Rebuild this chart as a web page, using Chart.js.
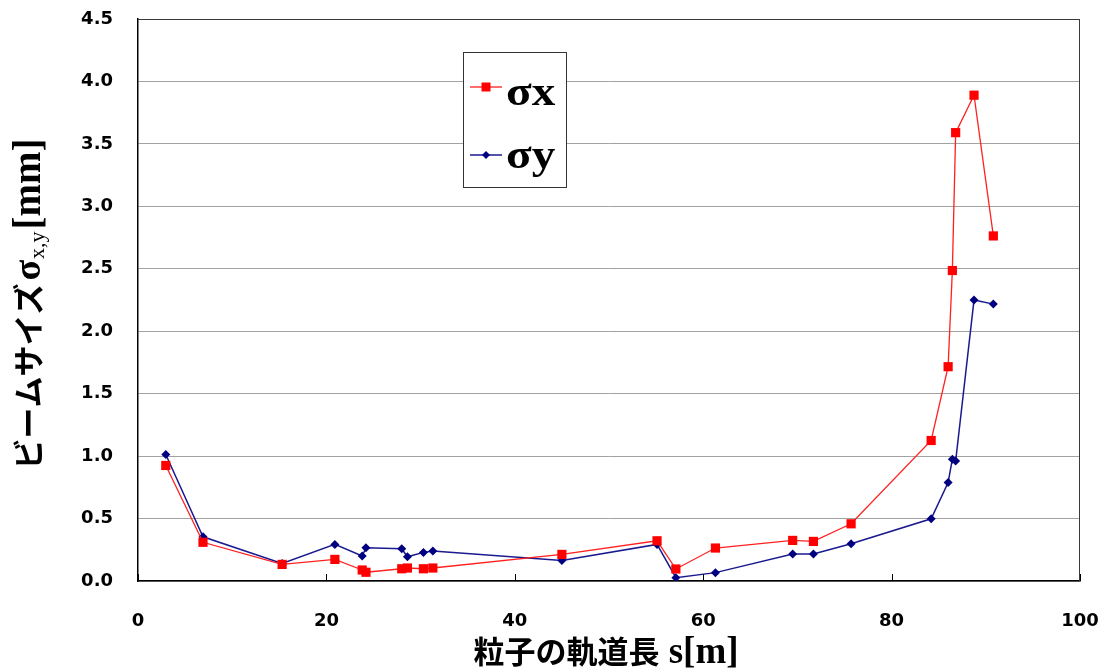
<!DOCTYPE html>
<html>
<head>
<meta charset="utf-8">
<script src="https://cdn.jsdelivr.net/npm/chart.js@4/dist/chart.umd.min.js"></script>
<style>
  html, body { margin: 0; padding: 0; background: #ffffff; }
  canvas { display: block; }
</style>
</head>
<body>
<canvas id="beam" width="1104" height="670"></canvas>
<script>
// Orbit position s [m] of each observation point
const orbitPositions = [2.95, 6.9, 15.3, 20.9, 23.8, 24.2, 28.0, 28.6, 30.3, 31.3, 45.0, 55.1, 57.1, 61.3, 69.5, 71.7, 75.7, 84.2, 86.0, 86.45, 86.8, 88.75, 90.8];
// Horizontal beam size sigma_x [mm]
const sigmaX = [0.925, 0.31, 0.133, 0.173, 0.088, 0.07, 0.098, 0.104, 0.098, 0.104, 0.213, 0.322, 0.096, 0.264, 0.325, 0.317, 0.458, 1.125, 1.716, 2.486, 3.59, 3.89, 2.763];
// Vertical beam size sigma_y [mm]
const sigmaY = [1.013, 0.354, 0.141, 0.293, 0.2, 0.266, 0.258, 0.194, 0.229, 0.24, 0.165, 0.293, 0.027, 0.067, 0.216, 0.216, 0.298, 0.498, 0.789, 0.975, 0.96, 2.25, 2.217];

const seriesNames = ['σx', 'σy'];
const xTickValues = [0, 20, 40, 60, 80, 100];
const yTickValues = [0, 0.5, 1.0, 1.5, 2.0, 2.5, 3.0, 3.5, 4.0, 4.5];

const CJK = '"Noto Sans CJK JP", sans-serif';
const SERIF = '"Liberation Serif", "Times New Roman", serif';
const TICKFONT = '"DejaVu Sans", sans-serif';

const toPoints = ys => orbitPositions.map((x, i) => ({ x, y: ys[i] }));

// Draws a run of mixed-font text pieces centred on (0,0) along the x direction
function drawRuns(ctx, runs) {
  let total = 0;
  runs.forEach(r => { ctx.font = r.font; r.w = ctx.measureText(r.text).width; total += r.w + (r.gap || 0); });
  let x = -total / 2;
  ctx.textAlign = 'left';
  ctx.textBaseline = 'alphabetic';
  runs.forEach(r => {
    x += (r.gap || 0);
    ctx.font = r.font;
    ctx.fillText(r.text, x, r.dy || 0);
    x += r.w;
  });
}

// Plot frame plus short inward tick marks on the s axis
const framePlugin = {
  id: 'frame',
  afterDatasetsDraw(chart) {
    const { ctx, chartArea: a, scales } = chart;
    ctx.save();
    ctx.strokeStyle = '#3a3a3a';
    ctx.lineWidth = 1;
    ctx.beginPath();
    ctx.moveTo(a.left, a.top + 0.5); ctx.lineTo(a.right, a.top + 0.5);
    ctx.moveTo(a.right - 0.5, a.top); ctx.lineTo(a.right - 0.5, a.bottom);
    ctx.stroke();
    ctx.strokeStyle = '#000';
    ctx.beginPath();
    xTickValues.forEach(v => {
      const px = Math.round(scales.x.getPixelForValue(v)) + 0.5;
      ctx.moveTo(px, a.bottom); ctx.lineTo(px, a.bottom - 7);
    });
    ctx.stroke();
    ctx.restore();
  }
};

// Boxed legend inside the plot area
const legendBoxPlugin = {
  id: 'legendBox',
  afterDatasetsDraw(chart) {
    const { ctx } = chart;
    const box = { l: 463.5, t: 52.5, w: 103, h: 135 };
    const rows = [{ y: 87, base: 105 }, { y: 155, base: 168 }];
    ctx.save();
    ctx.fillStyle = '#fff';
    ctx.fillRect(box.l, box.t, box.w, box.h);
    ctx.strokeStyle = '#333';
    ctx.lineWidth = 1;
    ctx.strokeRect(box.l, box.t, box.w, box.h);
    chart.data.datasets.forEach((ds, i) => {
      const r = rows[i];
      ctx.strokeStyle = ds.borderColor;
      ctx.lineWidth = ds.borderWidth;
      ctx.beginPath();
      ctx.moveTo(470, r.y); ctx.lineTo(502, r.y);
      ctx.stroke();
      ctx.fillStyle = ds.pointBackgroundColor;
      ctx.beginPath();
      if (ds.pointStyle === 'rect') {
        ctx.rect(486 - 4.5, r.y - 4.5, 9, 9);
      } else {
        ctx.moveTo(486, r.y - 4); ctx.lineTo(490, r.y); ctx.lineTo(486, r.y + 4); ctx.lineTo(482, r.y);
        ctx.closePath();
      }
      ctx.fill();
      ctx.fillStyle = '#000';
      ctx.font = 'bold 40px ' + SERIF;
      ctx.textAlign = 'left';
      ctx.textBaseline = 'alphabetic';
      ctx.save();
      ctx.translate(506, r.base);
      ctx.scale(1.18, 1);
      ctx.fillText(ds.label, 0, 0);
      ctx.restore();
    });
    ctx.restore();
  }
};

// Axis titles mixing Japanese gothic and serif Latin/Greek text
const axisTitlePlugin = {
  id: 'axisTitles',
  afterDraw(chart) {
    const { ctx, chartArea: a } = chart;
    ctx.save();
    ctx.fillStyle = '#000';
    ctx.translate((a.left + a.right) / 2 - 3, 663);
    drawRuns(ctx, [
      { text: '粒子の軌道長', font: 'bold 31px ' + CJK },
      { text: ' s[m]', font: 'bold 37px ' + SERIF }
    ]);
    ctx.restore();

    ctx.save();
    ctx.fillStyle = '#000';
    ctx.translate(40, (a.top + a.bottom) / 2 + 4);
    ctx.rotate(-Math.PI / 2);
    drawRuns(ctx, [
      { text: 'ビームサイズ', font: 'bold 31px ' + CJK },
      { text: 'σ', font: 'bold 38px ' + SERIF, gap: 3 },
      { text: 'x,y', font: '22px ' + SERIF, dy: 4, gap: 1 },
      { text: '[mm]', font: 'bold 39px ' + SERIF, gap: 2 }
    ]);
    ctx.restore();
  }
};

new Chart(document.getElementById('beam'), {
  type: 'scatter',
  data: {
    datasets: [
      {
        label: seriesNames[0],
        data: toPoints(sigmaX),
        showLine: true,
        borderColor: '#ff2020',
        borderWidth: 1.3,
        pointStyle: 'rect',
        pointRadius: 6.5,
        pointBackgroundColor: '#ff0000',
        pointBorderWidth: 0,
        tension: 0
      },
      {
        label: seriesNames[1],
        data: toPoints(sigmaY),
        showLine: true,
        borderColor: '#1a1a90',
        borderWidth: 1.5,
        pointStyle: 'rectRot',
        pointRadius: 4.5,
        pointBackgroundColor: '#000080',
        pointBorderWidth: 0,
        tension: 0
      }
    ]
  },
  options: {
    responsive: false,
    animation: false,
    events: [],
    layout: { padding: { top: 19, right: 24, left: 0, bottom: 0 } },
    plugins: { legend: { display: false }, tooltip: { enabled: false } },
    scales: {
      x: {
        type: 'linear',
        min: 0, max: 100,
        afterBuildTicks: s => { s.ticks = xTickValues.map(v => ({ value: v })); },
        afterFit: s => { s.height = 89; s.paddingLeft = 0; s.paddingRight = 0; },
        grid: { display: false, drawTicks: false },
        border: { display: true, color: '#000', width: 1.5 },
        ticks: { color: '#000', font: { family: TICKFONT, size: 18, weight: 'bold' }, padding: 30, maxRotation: 0 }
      },
      y: {
        type: 'linear',
        min: 0, max: 4.5,
        afterBuildTicks: s => { s.ticks = yTickValues.map(v => ({ value: v })); },
        afterFit: s => { s.width = 138; s.paddingTop = 0; s.paddingBottom = 0; },
        grid: { color: '#a3a3a3', lineWidth: 1, drawTicks: false },
        border: { display: true, color: '#000', width: 1.5 },
        ticks: { color: '#000', font: { family: TICKFONT, size: 18, weight: 'bold' }, padding: 25, callback: v => Number(v).toFixed(1) }
      }
    }
  },
  plugins: [framePlugin, legendBoxPlugin, axisTitlePlugin]
});
</script>
</body>
</html>
